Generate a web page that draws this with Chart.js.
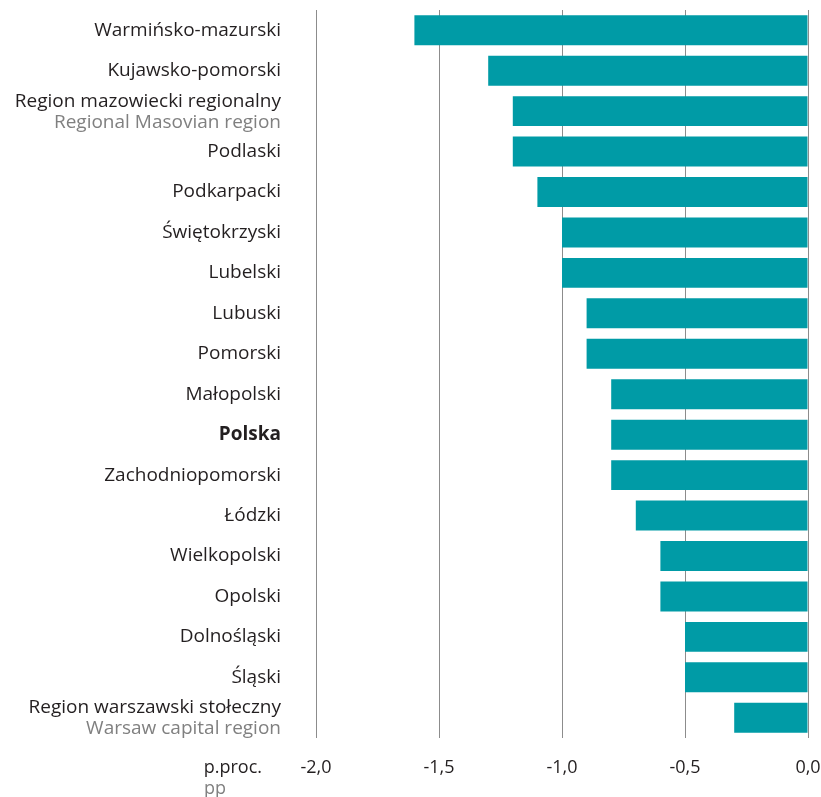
<!DOCTYPE html>
<html>
<head>
<meta charset="utf-8">
<script src="https://cdn.jsdelivr.net/npm/chart.js@4.4.0/dist/chart.umd.min.js"></script>
<style>
    html, body { margin: 0; padding: 0; background: #fff; }
    #wrap { width: 821px; height: 797px; }
</style>
</head>
<body>
<div id="wrap"><canvas id="chart"></canvas></div>
<script>
// Regions (Polish), optional English second line, and change in pp
const regions = [
    'Warmińsko-mazurski', 'Kujawsko-pomorski', 'Region mazowiecki regionalny', 'Podlaski',
    'Podkarpacki', 'Świętokrzyski', 'Lubelski', 'Lubuski', 'Pomorski', 'Małopolski',
    'Polska', 'Zachodniopomorski', 'Łódzki', 'Wielkopolski', 'Opolski', 'Dolnośląski',
    'Śląski', 'Region warszawski stołeczny'
];
const subtitles = [
    '', '', 'Regional Masovian region', '', '', '', '', '', '', '',
    '', '', '', '', '', '', '', 'Warsaw capital region'
];
const values = [
    -1.6, -1.3, -1.2, -1.2, -1.1, -1.0, -1.0, -0.9, -0.9, -0.8,
    -0.8, -0.8, -0.7, -0.6, -0.6, -0.5, -0.5, -0.3
];
const boldLabel = 'Polska';
const xMin = -2.0;
const xMax = 0.0;
const xStep = 0.5;
const unitLabel = ['p.proc.', 'pp'];

const FONT = '"Open Sans", sans-serif';
const BAR_COLOR = '#009ba6';
const TEXT_COLOR = '#231f20';
const SUB_COLOR = '#808080';

// draws the two-tone category labels and the unit label
const labelPlugin = {
    id: 'regionLabels',
    afterDraw(chart) {
        const ctx = chart.ctx;
        const yScale = chart.scales.y;
        const xScale = chart.scales.x;
        const right = chart.chartArea.left - 35;
        ctx.save();
        ctx.textAlign = 'right';
        ctx.textBaseline = 'middle';
        regions.forEach((name, i) => {
            const y = yScale.getPixelForTick(i);
            const bold = name === boldLabel;
            ctx.font = `${bold ? 'bold ' : ''}19px ${FONT}`;
            ctx.fillStyle = TEXT_COLOR;
            if (subtitles[i]) {
                ctx.fillText(name, right, y - 10);
                ctx.fillStyle = SUB_COLOR;
                ctx.fillText(subtitles[i], right, y + 11);
            } else {
                ctx.fillText(name, right, y);
            }
        });
        // unit below the category labels, level with x tick labels
        const tickY = xScale.top + 30;
        ctx.font = `18px ${FONT}`;
        ctx.fillStyle = TEXT_COLOR;
        ctx.fillText(unitLabel[0], 262, tickY);
        ctx.fillStyle = SUB_COLOR;
        ctx.fillText(unitLabel[1], 226, tickY + 21);
        ctx.restore();
    }
};

new Chart(document.getElementById('chart'), {
    type: 'bar',
    data: {
        labels: regions,
        datasets: [{
            data: values,
            backgroundColor: BAR_COLOR,
            barPercentage: 0.74,
            categoryPercentage: 1.0
        }]
    },
    options: {
        indexAxis: 'y',
        responsive: true,
        maintainAspectRatio: false,
        animation: false,
        layout: { padding: { top: 10, right: 0, bottom: 0, left: 0 } },
        plugins: {
            legend: { display: false },
            tooltip: { enabled: false }
        },
        scales: {
            x: {
                min: xMin,
                max: xMax,
                grid: { color: '#8c8c8c', lineWidth: 1, drawTicks: false },
                border: { display: false },
                ticks: {
                    stepSize: xStep,
                    padding: 19,
                    color: TEXT_COLOR,
                    font: { family: FONT, size: 18 },
                    callback: v => Number(v).toFixed(1).replace('.', ',')
                },
                afterFit(scale) {
                    scale.height = 59;
                    scale.paddingLeft = 0;
                    scale.paddingRight = 13;
                }
            },
            y: {
                grid: { display: false },
                border: { display: false },
                ticks: { display: false },
                afterFit(scale) { scale.width = 316; }
            }
        }
    },
    plugins: [labelPlugin]
});
</script>
</body>
</html>
